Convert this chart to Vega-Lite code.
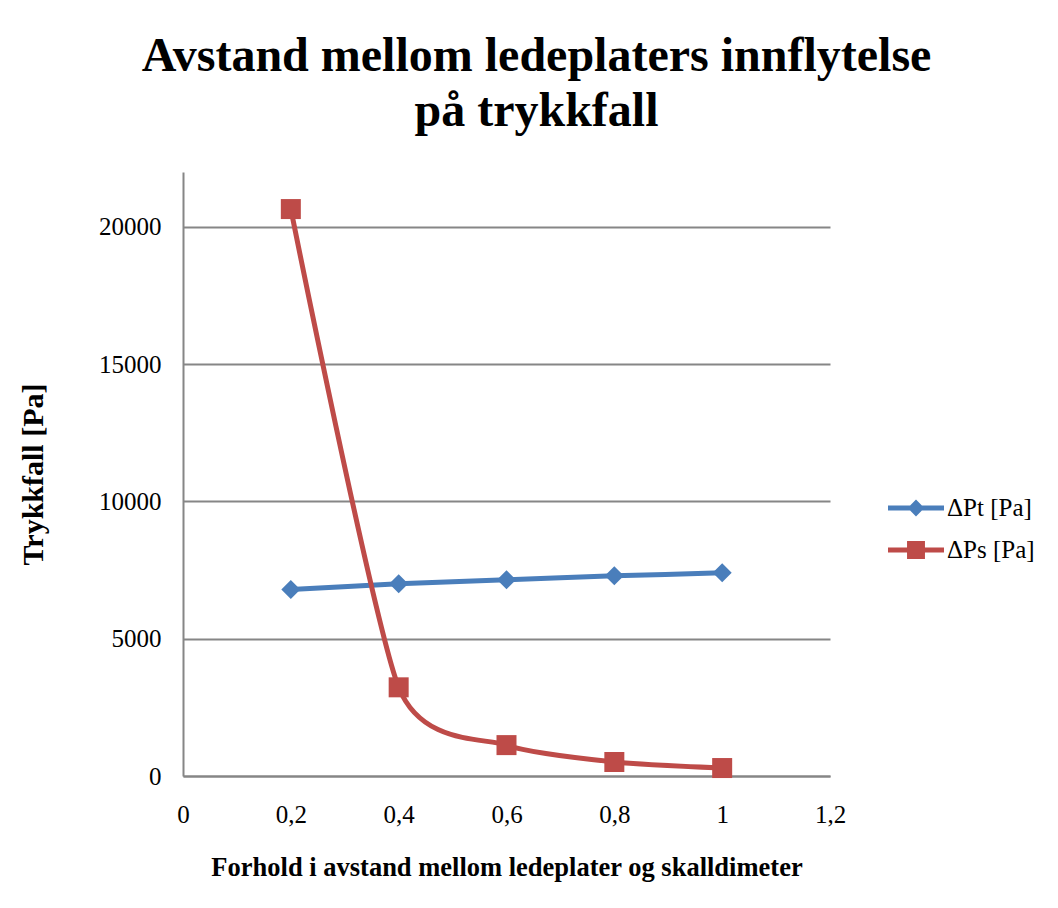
{
  "$schema": "https://vega.github.io/schema/vega-lite/v6.json",
  "autosize": "none",
  "width": 647,
  "height": 604,
  "padding": {"left": 183, "top": 172, "right": 228, "bottom": 132},
  "background": "white",
  "config": {
    "view": {"stroke": null},
    "font": "Liberation Serif",
    "legend": {"labelFont": "Liberation Serif"},
    "axis": {"labelFont": "Liberation Serif", "titleFont": "Liberation Serif"}
  },
  "title": {
    "text": ["Avstand mellom ledeplaters innflytelse", "på trykkfall"],
    "font": "Liberation Serif",
    "fontSize": 48,
    "fontWeight": "bold",
    "color": "black",
    "anchor": "middle",
    "frame": "group",
    "dx": 30,
    "offset": 36,
    "lineHeight": 55
  },
  "data": {
    "values": [
      {"x": 0.2, "value": 6790, "series": "ΔPt [Pa]"},
      {"x": 0.4, "value": 7000, "series": "ΔPt [Pa]"},
      {"x": 0.6, "value": 7150, "series": "ΔPt [Pa]"},
      {"x": 0.8, "value": 7290, "series": "ΔPt [Pa]"},
      {"x": 1.0, "value": 7400, "series": "ΔPt [Pa]"},
      {"x": 0.2, "value": 20650, "series": "ΔPs [Pa]"},
      {"x": 0.4, "value": 3230, "series": "ΔPs [Pa]"},
      {"x": 0.6, "value": 1125, "series": "ΔPs [Pa]"},
      {"x": 0.8, "value": 510, "series": "ΔPs [Pa]"},
      {"x": 1.0, "value": 290, "series": "ΔPs [Pa]"}
    ]
  },
  "encoding": {
    "x": {
      "field": "x",
      "type": "quantitative",
      "scale": {"domain": [0, 1.2], "nice": false, "zero": false},
      "axis": {
        "values": [0, 0.2, 0.4, 0.6, 0.8, 1, 1.2],
        "labelExpr": "replace(format(datum.value, '.1~f'), '.', ',')",
        "grid": false,
        "ticks": false,
        "domainColor": "#868686",
        "domainWidth": 2,
        "labelFont": "Liberation Serif",
        "labelFontSize": 25,
        "labelColor": "black",
        "labelPadding": 26,
        "labelFlush": false,
        "title": "Forhold i avstand mellom ledeplater og skalldimeter",
        "titleFont": "Liberation Serif",
        "titleFontSize": 26.5,
        "titleFontWeight": "bold",
        "titleColor": "black",
        "titlePadding": 27
      }
    },
    "y": {
      "field": "value",
      "type": "quantitative",
      "scale": {"domain": [0, 22000], "nice": false},
      "axis": {
        "values": [0, 5000, 10000, 15000, 20000],
        "format": "d",
        "grid": true,
        "gridColor": "#868686",
        "gridWidth": 2,
        "ticks": false,
        "domainColor": "#868686",
        "domainWidth": 2,
        "labelFont": "Liberation Serif",
        "labelFontSize": 25,
        "labelColor": "black",
        "labelPadding": 22,
        "title": "Trykkfall [Pa]",
        "titleFont": "Liberation Serif",
        "titleFontSize": 30,
        "titleFontWeight": "bold",
        "titleColor": "black",
        "titlePadding": 50
      }
    }
  },
  "layer": [
    {
      "mark": {"type": "line", "interpolate": "cardinal", "tension": 0.35, "strokeWidth": 5},
      "encoding": {
        "color": {
          "field": "series",
          "type": "nominal",
          "scale": {"domain": ["ΔPt [Pa]", "ΔPs [Pa]"], "range": ["#4A7EBB", "#BE4B48"]},
          "legend": {
            "title": null,
            "orient": "none",
            "legendX": 719,
            "legendY": 322,
            "symbolSize": 784,
            "rowPadding": 15,
            "padding": 0,
            "labelOffset": 17,
            "labelFont": "Liberation Serif",
            "labelFontSize": 25,
            "labelColor": "black",
            "encode": {
              "symbols": {
                "update": {
                  "shape": {"signal": "datum.value === 'ΔPt [Pa]' ? 'M-2,-0.18 L-0.42,-0.18 L0,-0.6 L0.42,-0.18 L2,-0.18 L2,0.18 L0.42,0.18 L0,0.6 L-0.42,0.18 L-2,0.18 Z' : 'M-2,-0.18 L-0.64,-0.18 L-0.64,-0.64 L0.64,-0.64 L0.64,-0.18 L2,-0.18 L2,0.18 L0.64,0.18 L0.64,0.64 L-0.64,0.64 L-0.64,0.18 L-2,0.18 Z'"},
                  "fill": {"signal": "datum.value === 'ΔPt [Pa]' ? '#4A7EBB' : '#BE4B48'"},
                  "strokeWidth": {"value": 0},
                  "opacity": {"value": 1}
                }
              }
            }
          }
        }
      }
    },
    {
      "transform": [{"filter": "datum.series === 'ΔPt [Pa]'"}],
      "mark": {"type": "point", "filled": true, "opacity": 1, "shape": "diamond", "size": 361, "color": "#4A7EBB"}
    },
    {
      "transform": [{"filter": "datum.series === 'ΔPs [Pa]'"}],
      "mark": {"type": "point", "filled": true, "opacity": 1, "shape": "square", "size": 400, "color": "#BE4B48"}
    }
  ]
}
